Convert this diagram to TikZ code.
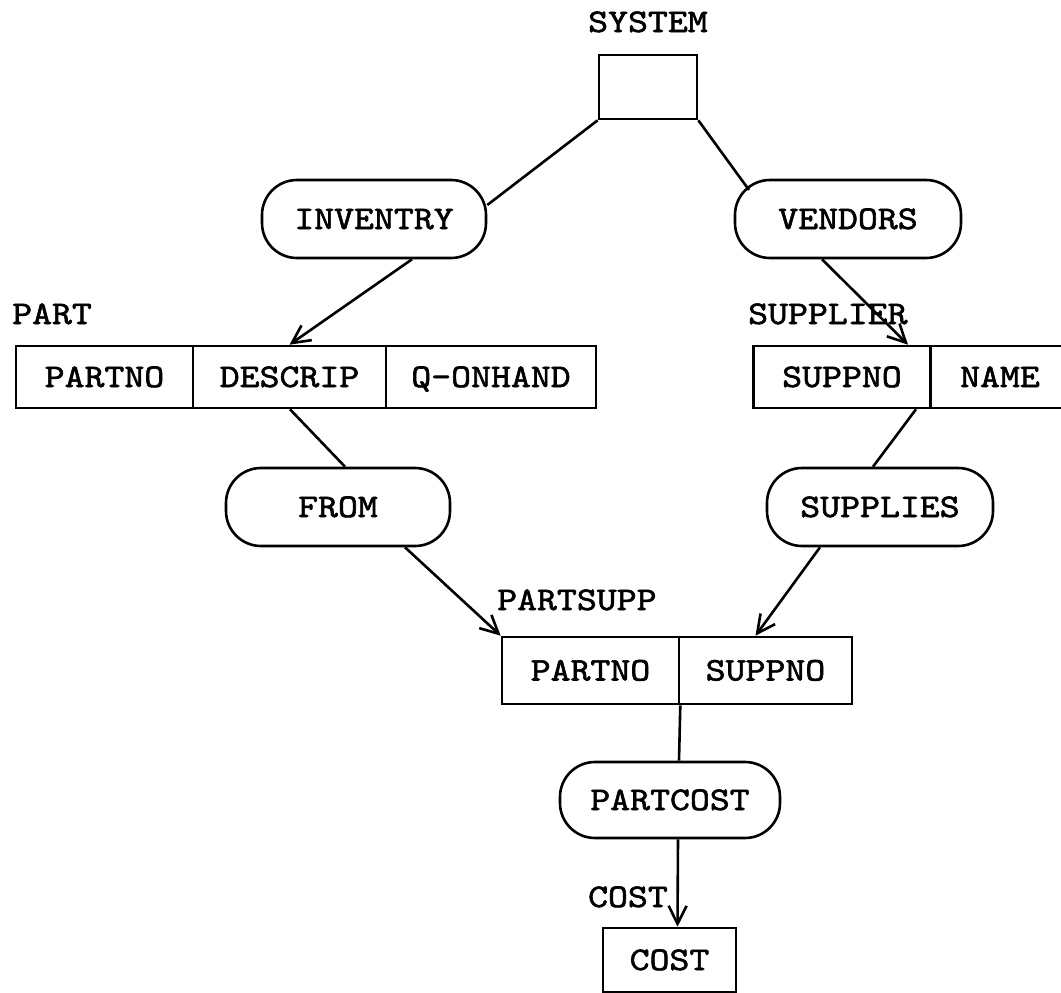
\documentclass[tikz,border=0pt]{standalone}
\usepackage{fontspec}
\newfontfamily\typewriter[FakeStretch=1.15,FakeBold=1.8]{lmmono10-regular.otf}
\usetikzlibrary{arrows.meta,calc}
\begin{document}
\begin{tikzpicture}[x=1pt,y=-1pt,
  every node/.style={font=\typewriter\fontsize{33}{33}\selectfont, inner sep=0pt,
                     text height=20pt, text depth=0pt},
  ln/.style={line width=2.6pt},
  cell/.style={draw, line width=2.6pt, minimum height=62pt},
  relation/.style={draw, rectangle, rounded corners=35pt, line width=2.6pt,
                   minimum height=78pt},
  arr/.style={ln, -{Straight Barb[length=18pt,width=18pt]}},
  lab/.style={anchor=west}]
\useasboundingbox (0,0) rectangle (1061,993);
\clip (0,0) rectangle (1061,993);

% root record
\node (systxt) at (648,22) {SYSTEM};
\node[draw, line width=2.6pt, minimum width=98pt, minimum height=64pt] (sys) at (648,87) {};

% first-level relations
\node[relation, minimum width=224pt] (inv) at (374,219) {INVENTRY};
\node[relation, minimum width=226pt] (ven) at (848,219) {VENDORS};

% PART record
\node[lab] (parttxt) at (12,314) {PART};
\node[cell, minimum width=177pt] (pno) at (104.5,377) {PARTNO};
\node[cell, minimum width=193pt] (desc) at (289.5,377) {DESCRIP};
\node[cell, minimum width=210pt] (qoh) at (491,377) {Q-ONHAND};

% SUPPLIER record
\node[lab] (supptxt) at (748,314) {SUPPLIER};
\node[cell, minimum width=177pt] (sno) at (842,377) {SUPPNO};
\node[cell, minimum width=139pt] (sname) at (1000,377) {NAME};

% second-level relations
\node[relation, minimum width=224pt] (from) at (338,507) {FROM};
\node[relation, minimum width=226pt] (sup) at (880,507) {SUPPLIES};

% PARTSUPP record
\node[lab] (pstxt) at (497,600) {PARTSUPP};
\node[cell, minimum width=177pt, minimum height=67pt] (psno) at (590.5,670.5) {PARTNO};
\node[cell, minimum width=173pt, minimum height=67pt] (pssno) at (765.5,670.5) {SUPPNO};

% PARTCOST relation and COST record
\node[relation, minimum width=220pt, minimum height=76pt] (pc) at (670,800) {PARTCOST};
\node[anchor=east] (costtxt) at (668,897) {COST};
\node[draw, line width=2.6pt, minimum width=133pt, minimum height=64pt] (cost) at (669.5,960) {COST};

% connectors
\draw[ln] (sys.south west) -- ($(inv.east)+(0,-14)$);
\draw[ln] (sys.south east) -- ($(ven.center)+(-99,-29)$);
\draw[arr] ($(inv.south)+(38,0)$) -- (desc.north);
\draw[arr] ($(ven.south)+(-26,0)$) -- ($(sno.north)+(66,0)$);
\draw[ln] ($(desc.south)+(0.5,0)$) -- ($(from.north)+(7,0)$);
\draw[ln] ($(sno.south)+(74,0)$) -- ($(sup.north)+(-7,0)$);
\draw[arr] ($(from.south)+(67,0)$) -- (psno.north west);
\draw[arr] ($(sup.south)+(-60,0)$) -- ($(pssno.north)+(-10,0)$);
\draw[ln] (psno.south east) -- ($(pc.north)+(9,0)$);
\draw[arr] ($(pc.south)+(8,0)$) -- ($(cost.north)+(8,0)$);
\end{tikzpicture}
\end{document}
